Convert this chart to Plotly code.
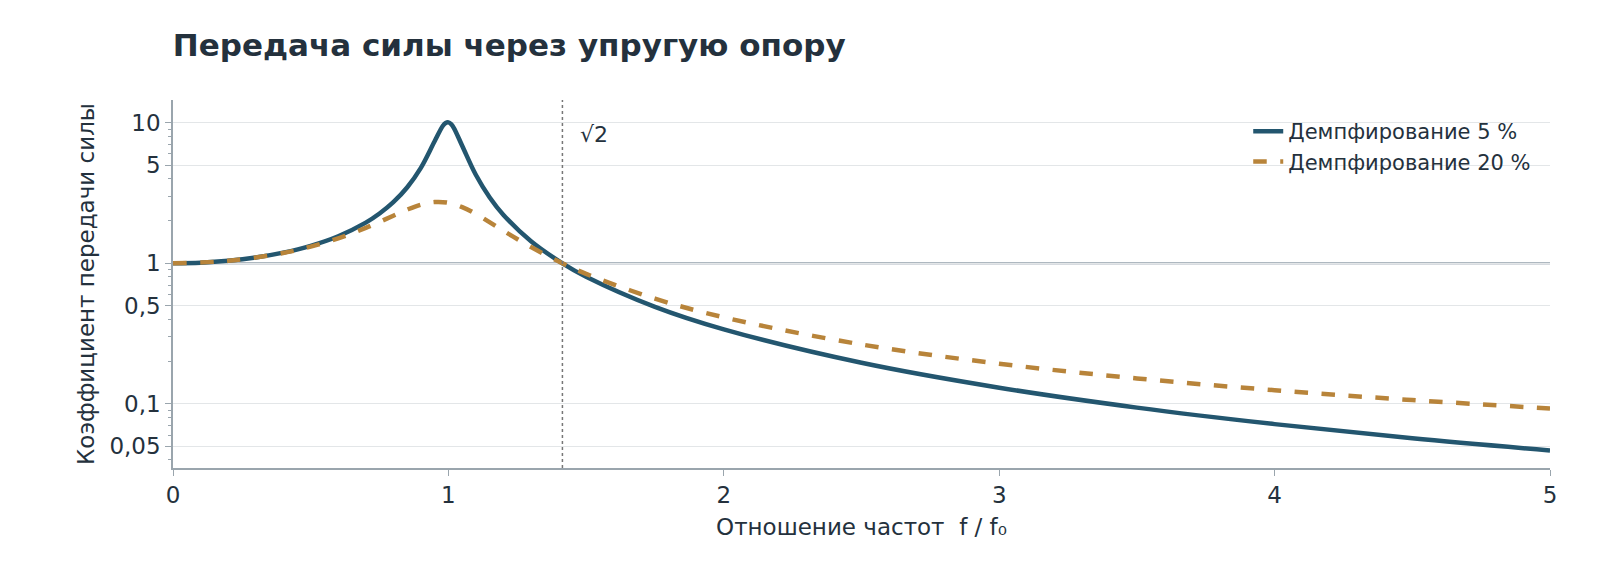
import numpy as np
import plotly.graph_objects as go

# frequency ratio f/f0 and transmissibility
r_05 = [0, 0.1, 0.2, 0.3, 0.4, 0.5, 0.6, 0.7, 0.75, 0.8, 0.85, 0.9, 0.95, 0.98, 0.99, 1.0,
        1.01, 1.02, 1.05, 1.1, 1.15, 1.2, 1.3, 1.414, 1.5, 1.75, 2, 2.5, 3, 3.5, 4, 4.5, 5]
t_05 = [1.0, 1.010, 1.042, 1.099, 1.190, 1.332, 1.558, 1.947, 2.259, 2.720, 3.459, 4.776,
        7.379, 9.506, 9.951, 10.05, 9.760, 9.162, 6.853, 4.244, 2.940, 2.208, 1.436, 1.0,
        0.803, 0.4905, 0.3392, 0.1961, 0.1304, 0.0941, 0.0718, 0.0569, 0.0466]

r_20 = [0, 0.2, 0.4, 0.5, 0.6, 0.7, 0.8, 0.85, 0.9, 0.95, 1.0, 1.05, 1.1, 1.2, 1.3, 1.414,
        1.5, 1.75, 2, 2.5, 3, 3.5, 4, 4.5, 5]
t_20 = [1.0, 1.041, 1.184, 1.314, 1.505, 1.785, 2.180, 2.407, 2.611, 2.727, 2.693, 2.509,
        2.241, 1.703, 1.304, 1.0, 0.841, 0.5604, 0.4125, 0.2646, 0.1931, 0.1518, 0.1251,
        0.1065, 0.0928]

y_ticks = [0.05, 0.1, 0.5, 1, 5, 10]
y_labels = ["0,05", "0,1", "0,5", "1", "5", "10"]
y_minor = [0.04, 0.06, 0.07, 0.08, 0.09, 0.2, 0.3, 0.4, 0.6, 0.7, 0.8, 0.9,
           2, 3, 4, 6, 7, 8, 9]
x_ticks = [0, 1, 2, 3, 4, 5]
sqrt2 = 1.414

blue = "#23566f"
gold = "#b8843a"
ink = "#24313d"
axis_c = "#9aa5ad"

fig = go.Figure()
fig.add_trace(go.Scatter(x=r_05, y=t_05, mode="lines", name="Демпфирование 5 %",
                         line=dict(color=blue, width=4.5, shape="spline", smoothing=1)))
fig.add_trace(go.Scatter(x=r_20, y=t_20, mode="lines", name="Демпфирование 20 %",
                         line=dict(color=gold, width=4.5, dash="dash", shape="spline", smoothing=1)))

fig.add_hline(y=1, line=dict(color="#5f7282", width=1.8), layer="below")
fig.add_vline(x=sqrt2, line=dict(color="#777777", width=1.5, dash="dot"))
fig.add_annotation(x=sqrt2, y=np.log10(8.3), text="√2", showarrow=False,
                   xanchor="left", xshift=16, font=dict(size=22, color=ink))

fig.update_layout(
    width=1600, height=587,
    plot_bgcolor="white", paper_bgcolor="white",
    font=dict(family="DejaVu Sans", size=22, color=ink),
    title=dict(text="<b>Передача силы через упругую опору</b>", x=0.103, xanchor="left",
               y=0.955, font=dict(size=31, color=ink)),
    margin=dict(l=165, r=58, t=92, b=127),
    legend=dict(x=0.99, y=0.97, xanchor="right", yanchor="top", bgcolor="rgba(0,0,0,0)",
                font=dict(size=21, color=ink)),
    xaxis=dict(range=[0, 5], tickvals=x_ticks, showgrid=False, zeroline=False,
               showline=True, linecolor=axis_c, linewidth=1.5, ticks="outside",
               ticklen=6, tickcolor=axis_c, tickfont=dict(size=23),
               title=dict(text="Отношение частот  f / f₀", standoff=12, font=dict(size=23))),
    yaxis=dict(type="log", range=[np.log10(0.035), np.log10(14.5)], tickvals=y_ticks,
               ticktext=y_labels, showgrid=True, gridcolor="#e3e6e8", zeroline=False,
               showline=True, linecolor=axis_c, linewidth=1.5, ticks="outside",
               ticklen=6, tickcolor=axis_c, tickfont=dict(size=23),
               minor=dict(tickvals=y_minor, ticks="outside", ticklen=3, tickcolor=axis_c,
                          showgrid=False),
               title=dict(text="Коэффициент передачи силы", standoff=8, font=dict(size=23))),
)

fig.write_html("out.html")
